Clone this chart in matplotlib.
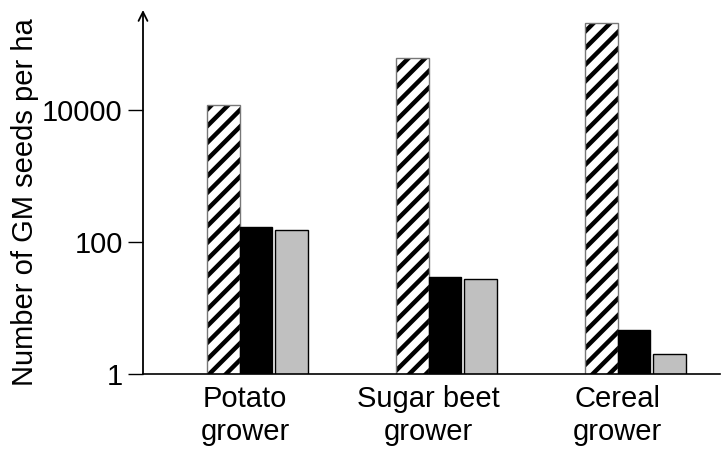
import matplotlib
matplotlib.use('Agg')
import matplotlib.pyplot as plt
import numpy as np

plt.rcParams['font.family'] = ['Liberation Sans', 'DejaVu Sans']
plt.rcParams['hatch.linewidth'] = 3.2

# seeds per ha for each grower type (log scale)
groups = ['Potato\ngrower', 'Sugar beet\ngrower', 'Cereal\ngrower']
seeds_a = [11700, 59700, 205000]   # hatched bars
seeds_b = [166, 29.7, 4.7]         # black bars
seeds_c = [151, 27, 2.0]           # grey bars
yticks = [1, 100, 10000]
ytick_labels = ['1', '100', '10000']

x = np.arange(len(groups))
w = 0.172

fig = plt.figure(figsize=(7.23, 4.5), dpi=100)
ax = fig.add_axes([143 / 723, 76 / 450, 577 / 723, 364 / 450])

ax.bar(x - w, seeds_a, width=w, color='white', edgecolor='black', hatch='//', linewidth=0)
ax.bar(x - w, seeds_a, width=w, fill=False, edgecolor='#777777', linewidth=1.0)
ax.bar(x, seeds_b, width=w, color='black', edgecolor='black', linewidth=1.0)
ax.bar(x + w + 0.016, seeds_c, width=w, color='#c0c0c0', edgecolor='black', linewidth=1.0)

ax.set_yscale('log')
ax.set_ylim(1, 10 ** ((374 - 10) / 66.1))
ax.set_xlim(-0.598, -0.598 + 577 / 189)

ax.set_yticks(yticks)
ax.set_yticklabels(ytick_labels, fontsize=21)
ax.yaxis.set_minor_locator(matplotlib.ticker.NullLocator())
ax.tick_params(axis='y', length=11, width=1.0, pad=3.5)

# group labels sit a little left of the group centre
ax.set_xticks([-0.058, 0.91, 1.91])
ax.set_xticklabels(groups, fontsize=21)
ax.tick_params(axis='x', length=0, pad=8)

for s in ['top', 'right']:
    ax.spines[s].set_visible(False)
ax.spines['left'].set_visible(False)
ax.spines['bottom'].set_linewidth(1.2)

# y axis drawn as an arrow
ax.annotate('', xy=(0, 1.0), xycoords='axes fraction', xytext=(0, 0),
            textcoords='axes fraction',
            arrowprops=dict(arrowstyle='->', lw=1.3, color='black',
                            mutation_scale=16, shrinkA=0, shrinkB=0))

fig.text(25 / 723, 1 - 202 / 450, 'Number of GM seeds per ha', rotation=90,
         ha='center', va='center', fontsize=21)

fig.savefig('out.png', dpi=100)
